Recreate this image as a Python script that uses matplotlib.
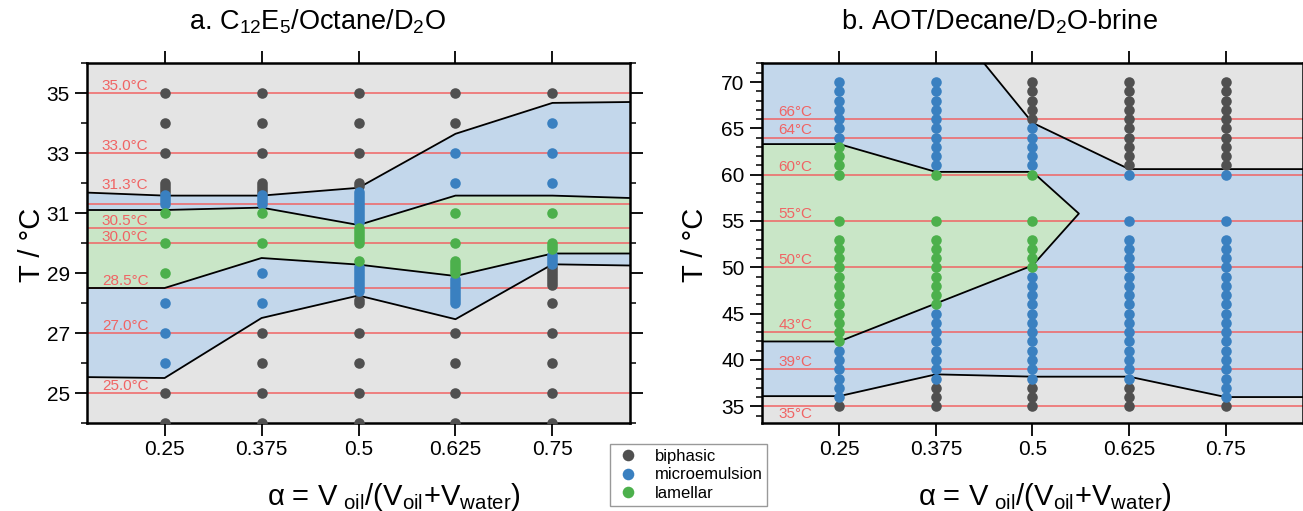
import matplotlib.pyplot as plt
from matplotlib.ticker import MultipleLocator, FixedLocator

plt.rcParams['font.family'] = ['Liberation Sans', 'DejaVu Sans']
plt.rcParams['mathtext.default'] = 'regular'

# colours
c_bi = '#505050'
c_me = '#3a80c0'
c_la = '#4cb04c'
bg_bi = '#e4e4e4'
bg_me = '#c3d7eb'
bg_la = '#c9e6c7'
c_red = '#f06464'

alphas = [0.25, 0.375, 0.5, 0.625, 0.75]
edge_x = [0.15, 0.25, 0.375, 0.5, 0.625, 0.75, 0.85]

# ---- a. C12E5 / Octane / D2O ----
a_biphasic = {
    0.25: [35, 34, 33, 32, 31.9, 31.8, 31.7, 25, 24],
    0.375: [35, 34, 33, 32, 31.9, 31.8, 31.7, 27, 26, 25, 24],
    0.5: [35, 34, 33, 32, 31.9, 28.1, 28.0, 27, 26, 25, 24],
    0.625: [35, 34, 27, 26, 25, 24],
    0.75: [35, 29.2, 29.1, 29.0, 28.9, 28.8, 28.7, 28.6, 28, 27, 26, 25, 24],
}
a_micro = {
    0.25: [31.6, 31.5, 31.4, 31.3, 28, 27, 26],
    0.375: [31.6, 31.5, 31.4, 31.3, 29, 28],
    0.5: [31.7, 31.6, 31.5, 31.4, 31.3, 31.2, 31.1, 31.0, 30.9, 30.8, 30.7,
          29.2, 29.1, 29.0, 28.9, 28.8, 28.7, 28.6, 28.5, 28.4],
    0.625: [33, 32, 28.8, 28.7, 28.6, 28.5, 28.4, 28.3, 28.2, 28.1, 28.0],
    0.75: [34, 33, 32, 29.6, 29.5, 29.4, 29.3],
}
a_lamellar = {
    0.25: [31, 30, 29],
    0.375: [31, 30],
    0.5: [30.5, 30.4, 30.3, 30.2, 30.1, 30.0, 29.4],
    0.625: [31, 30, 29.4, 29.3, 29.2, 29.1, 29.0],
    0.75: [31, 30, 29.9, 29.8],
}
a_upper = [31.68, 31.58, 31.58, 31.84, 33.64, 34.67, 34.7]
a_lam_top = [31.1, 31.1, 31.18, 30.6, 31.58, 31.58, 31.5]
a_lam_bot = [28.5, 28.5, 29.5, 29.28, 28.9, 29.65, 29.65]
a_lower = [25.53, 25.5, 27.5, 28.25, 27.46, 29.29, 29.25]
a_lines = [35.0, 33.0, 31.3, 30.5, 30.0, 28.5, 27.0, 25.0]
a_label_y = [35.22, 33.22, 31.94, 30.73, 30.2, 28.73, 27.22, 25.25]

# ---- b. AOT / Decane / D2O-brine ----
b_biphasic = {
    0.25: [35],
    0.375: [37, 36, 35],
    0.5: [70, 69, 68, 67, 66, 37, 36, 35],
    0.625: [70, 69, 68, 67, 66, 65, 64, 63, 62, 61, 37, 36, 35],
    0.75: [70, 69, 68, 67, 66, 65, 64, 63, 62, 61, 35],
}
b_micro = {
    0.25: [70, 69, 68, 67, 66, 65, 64, 41, 40, 39, 38, 37, 36],
    0.375: [70, 69, 68, 67, 66, 65, 64, 63, 62, 61, 45, 44, 43, 42, 41, 40, 39, 38],
    0.5: [65, 64, 63, 62, 61, 49, 48, 47, 46, 45, 44, 43, 42, 41, 40, 39, 38],
    0.625: [60, 55, 53, 52, 51, 50, 49, 48, 47, 46, 45, 44, 43, 42, 41, 40, 39, 38],
    0.75: [60, 55, 53, 52, 51, 50, 49, 48, 47, 46, 45, 44, 43, 42, 41, 40, 39, 38, 37, 36],
}
b_lamellar = {
    0.25: [63, 62, 61, 60, 55, 53, 52, 51, 50, 49, 48, 47, 46, 45, 44, 43, 42],
    0.375: [60, 55, 53, 52, 51, 50, 49, 48, 47, 46],
    0.5: [60, 55, 53, 52, 51, 50],
    0.625: [],
    0.75: [],
}
# phase boundaries of panel b on a common alpha grid
b_edge_x = [0.15, 0.25, 0.375, 0.437, 0.5, 0.625, 0.75, 0.85]
b_upper = [72.05, 72.05, 72.05, 72.05, 65.6, 60.6, 60.6, 60.6]
b_lower = [36.1, 36.1, 38.45, 38.33, 38.2, 38.2, 36.0, 36.0]
b_lam_x = [0.15, 0.25, 0.375, 0.5, 0.56, 0.5, 0.375, 0.25, 0.15]
b_lam_y = [63.3, 63.3, 60.3, 60.3, 55.8, 50.2, 46.1, 42.0, 42.0]
b_lines = [66, 64, 60, 55, 50, 43, 39, 35]
b_label_y = [66.8, 64.8, 60.8, 55.8, 50.8, 43.8, 39.8, 34.2]

fig = plt.figure(figsize=(13.03, 5.11), dpi=100)
ax1 = fig.add_axes([0.0668, 0.1722, 0.4167, 0.7045])
ax2 = fig.add_axes([0.5848, 0.1722, 0.4152, 0.7045])


def draw_points(ax, data, color, label):
    first = True
    for a in alphas:
        ts = data[a]
        if not ts:
            continue
        ax.plot([a] * len(ts), ts, 'o', color=color, ms=7.6, mec='none', zorder=5,
                label=label if first else None)
        first = False


def style_axis(ax, lo, hi):
    ax.set_facecolor(bg_bi)
    ax.set_xlim(0.15, 0.85)
    ax.set_ylim(lo, hi)
    ax.xaxis.set_major_locator(FixedLocator(alphas))
    ax.set_xticklabels(['0.25', '0.375', '0.5', '0.625', '0.75'])
    ax.tick_params(which='both', direction='out', top=True, right=True, labelsize=15)
    ax.tick_params(which='major', length=9, width=1.3)
    ax.tick_params(which='minor', length=4.5, width=1.1)
    for s in ax.spines.values():
        s.set_linewidth(1.8)


# panel a
style_axis(ax1, 24, 36)
ax1.fill_between(edge_x, a_lower, a_upper, color=bg_me, lw=0, zorder=1)
ax1.fill_between(edge_x, a_lam_bot, a_lam_top, color=bg_la, lw=0, zorder=1.5)
for yy in [a_upper, a_lam_top, a_lam_bot, a_lower]:
    ax1.plot(edge_x, yy, color='black', lw=1.3, zorder=3)
for t, ly in zip(a_lines, a_label_y):
    ax1.axhline(t, color=c_red, lw=1.1, zorder=2)
    ax1.text(0.169, ly, f'{t:.1f}°C', color=c_red, fontsize=11, va='center', zorder=4)
draw_points(ax1, a_biphasic, c_bi, 'biphasic')
draw_points(ax1, a_micro, c_me, 'microemulsion')
draw_points(ax1, a_lamellar, c_la, 'lamellar')
ax1.yaxis.set_major_locator(FixedLocator([25, 27, 29, 31, 33, 35]))
ax1.yaxis.set_minor_locator(MultipleLocator(1))

# panel b
style_axis(ax2, 33.2, 72.05)
ax2.fill_between(b_edge_x, b_lower, b_upper, color=bg_me, lw=0, zorder=1)
ax2.fill(b_lam_x, b_lam_y, color=bg_la, lw=0, zorder=1.5)
ax2.plot(b_lam_x, b_lam_y, color='black', lw=1.3, zorder=3)
ax2.plot(b_edge_x[3:], b_upper[3:], color='black', lw=1.3, zorder=3)
ax2.plot(b_edge_x, b_lower, color='black', lw=1.3, zorder=3)
for t, ly in zip(b_lines, b_label_y):
    ax2.axhline(t, color=c_red, lw=1.1, zorder=2)
    ax2.text(0.171, ly, f'{t}°C', color=c_red, fontsize=11, va='center', zorder=4)
draw_points(ax2, b_biphasic, c_bi, 'biphasic')
draw_points(ax2, b_micro, c_me, 'microemulsion')
draw_points(ax2, b_lamellar, c_la, 'lamellar')
ax2.yaxis.set_major_locator(MultipleLocator(5))
ax2.yaxis.set_minor_locator(MultipleLocator(1))

# titles and labels
fig.text(317 / 1303, 1 - 22 / 511, r'a. C$_{12}$E$_5$/Octane/D$_2$O',
         fontsize=19.5, ha='center', va='center')
fig.text(999 / 1303, 1 - 22 / 511, r'b. AOT/Decane/D$_2$O-brine',
         fontsize=19.5, ha='center', va='center')
xl = r'α = V$_{\ oil}$/(V$_{oil}$+V$_{water}$)'
fig.text(394 / 1303, 1 - 497 / 511, xl, fontsize=21, ha='center', va='center')
fig.text(1045 / 1303, 1 - 497 / 511, xl, fontsize=21, ha='center', va='center')
fig.text(32 / 1303, 1 - 245 / 511, 'T / °C', fontsize=21, rotation=90,
         ha='center', va='center')
fig.text(695 / 1303, 1 - 245 / 511, 'T / °C', fontsize=21, rotation=90,
         ha='center', va='center')

h, l = ax1.get_legend_handles_labels()
fig.legend(h, l, loc='center', bbox_to_anchor=(0.5284, 0.0705), fontsize=12,
           fancybox=False, edgecolor='#999999', framealpha=1, markerscale=1.1,
           handletextpad=0.8, borderpad=0.3, labelspacing=0.2, handlelength=1.6)

fig.savefig('out.png', dpi=100)
